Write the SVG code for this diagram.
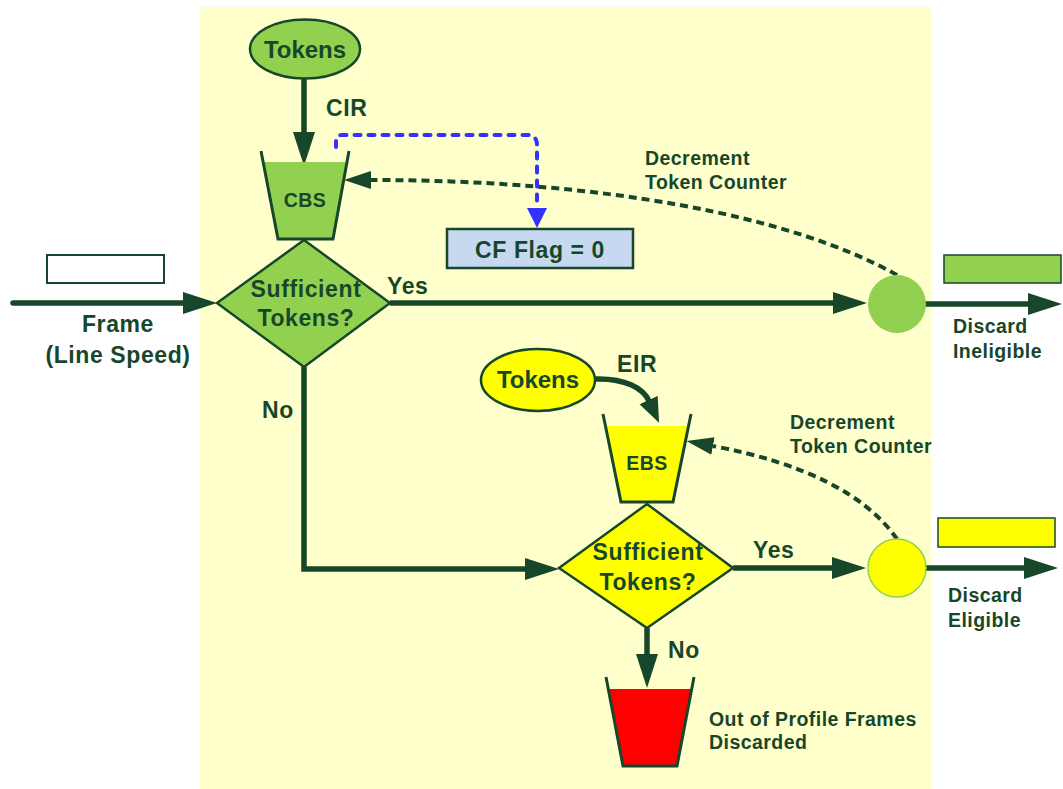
<svg xmlns="http://www.w3.org/2000/svg" width="1063" height="789" viewBox="0 0 1063 789">
<style>
text{font-family:"Liberation Sans",Arial,sans-serif;font-weight:bold;fill:#17472A}
.big{font-size:23px;letter-spacing:0.6px}
.lbl{font-size:23px;letter-spacing:0.6px}
.sm{font-size:19.5px;letter-spacing:0.4px}
.note{font-size:19.5px;letter-spacing:0.45px}
.c{text-anchor:middle}
.ln{fill:none;stroke:#17472A;stroke-width:5.5}
.dash{fill:none;stroke:#17472A;stroke-width:4;stroke-dasharray:8 5}
.blue{fill:none;stroke:#3333FF;stroke-width:4;stroke-dasharray:6 8;stroke-linecap:round}
.edge{stroke:#17472A;stroke-width:2.5}
.cup{fill:none;stroke:#17472A;stroke-width:3;stroke-linejoin:miter}
</style>
<defs>
<marker id="aL" markerUnits="userSpaceOnUse" markerWidth="36" markerHeight="24" refX="2" refY="11" orient="auto"><path d="M0,0 L34,11 L0,22 z" fill="#17472A"/></marker>
<marker id="aD" markerUnits="userSpaceOnUse" markerWidth="30" markerHeight="20" refX="0" refY="9" orient="auto"><path d="M0,0 L27,9 L0,18 z" fill="#17472A"/></marker>
<marker id="aE" markerUnits="userSpaceOnUse" markerWidth="28" markerHeight="22" refX="1" refY="10" orient="auto"><path d="M0,0 L25,10 L0,20 z" fill="#17472A"/></marker>
<marker id="aB" markerUnits="userSpaceOnUse" markerWidth="22" markerHeight="22" refX="0" refY="10" orient="auto"><path d="M0,0 L20,10 L0,20 z" fill="#3333FF"/></marker>
</defs>
<rect x="200" y="7" width="731" height="782" fill="#FFFFCC"/>

<g id="legend-frame"><rect x="47" y="255" width="117" height="28" fill="#FFFFFF" stroke="#17472A" stroke-width="2"/></g>
<g id="legend-ineligible"><rect x="944" y="255" width="117" height="28" fill="#92D050" stroke="#17472A" stroke-width="1.5"/></g>
<g id="legend-eligible"><rect x="938" y="518" width="117" height="29" fill="#FFFF00" stroke="#17472A" stroke-width="1.5"/></g>

<g id="connectors">
<path class="ln" d="M13,303 H185" stroke-linecap="round" marker-end="url(#aL)"/>
<path class="ln" d="M304,79 V134" marker-end="url(#aL)"/>
<path class="ln" d="M390,303 H835" marker-end="url(#aL)"/>
<path class="ln" d="M925,304 H1030" stroke-linecap="round" marker-end="url(#aL)"/>
<path class="ln" d="M304,367 V569 H527" marker-end="url(#aL)"/>
<path class="ln" d="M733,568 H834" marker-end="url(#aL)"/>
<path class="ln" d="M925,568 H1026" stroke-linecap="round" marker-end="url(#aL)"/>
<path class="ln" d="M647,628 V656" marker-end="url(#aL)"/>
<path class="ln" d="M595,379 C625,378 643,388 649,401" marker-end="url(#aE)"/>
<path class="dash" d="M897,275 C790,215 600,180 371,180" marker-end="url(#aD)"/>
<path class="dash" d="M897,539 Q850,472 713,446" marker-end="url(#aD)"/>
<path class="blue" d="M336,147 V141 Q336,135 342,135 H527 Q537,135 537,145 V208" marker-end="url(#aB)"/>
</g>

<g id="tokens-cir">
<ellipse cx="305" cy="49" rx="55" ry="29.5" fill="#92D050" class="edge"/>
<text x="305" y="58" class="c" style="font-size:24px">Tokens</text>
</g>
<text x="326" y="116" class="lbl">CIR</text>

<g id="cbs">
<polygon points="263,162 347,162 333,239 278,239" fill="#92D050"/>
<polyline points="261,151 278,239 333,239 349,151" class="cup"/>
<text x="305" y="207" class="c sm">CBS</text>
</g>

<g id="cf-flag">
<rect x="447" y="229" width="186" height="39" fill="#C6D9F1" class="edge"/>
<text x="540" y="258" class="c big">CF Flag = 0</text>
</g>

<text x="645" y="165" class="note">Decrement</text>
<text x="645" y="189" class="note">Token Counter</text>

<g id="decision-cir">
<polygon points="217,303 304,240 390,303 304,367" fill="#92D050" class="edge"/>
<text x="306" y="297" class="c big">Sufficient</text>
<text x="306" y="326" class="c big">Tokens?</text>
</g>
<text x="387" y="294" class="lbl">Yes</text>
<text x="262" y="418" class="lbl">No</text>

<text x="118" y="332" class="c big">Frame</text>
<text x="118" y="363" class="c big">(Line Speed)</text>

<g id="mark-ineligible"><circle cx="897" cy="304" r="29" fill="#92D050"/></g>
<text x="953" y="333" class="note">Discard</text>
<text x="953" y="358" class="note">Ineligible</text>

<g id="tokens-eir">
<ellipse cx="538" cy="380" rx="57" ry="31" fill="#FFFF00" class="edge"/>
<text x="538" y="388" class="c" style="font-size:24px">Tokens</text>
</g>
<text x="617" y="372" class="lbl">EIR</text>

<g id="ebs">
<polygon points="605.5,426 688.5,426 673,502 621,502" fill="#FFFF00"/>
<polyline points="603,414 621,502 673,502 691,414" class="cup"/>
<text x="647" y="470" class="c sm">EBS</text>
</g>

<text x="790" y="429" class="note">Decrement</text>
<text x="790" y="453" class="note">Token Counter</text>

<g id="decision-eir">
<polygon points="559,568 647,504 733,568 647,628" fill="#FFFF00" class="edge"/>
<text x="648" y="560" class="c big">Sufficient</text>
<text x="648" y="590" class="c big">Tokens?</text>
</g>
<text x="753" y="558" class="lbl">Yes</text>
<text x="668" y="658" class="lbl">No</text>

<g id="mark-eligible"><circle cx="897" cy="568" r="29" fill="#FFFF00" stroke="#92D050" stroke-width="1.5"/></g>
<text x="948" y="602" class="note">Discard</text>
<text x="948" y="627" class="note">Eligible</text>

<g id="discard-bucket">
<polygon points="608.3,689 691.7,689 677,766 623,766" fill="#FF0000"/>
<polyline points="606,677 623,766 677,766 694,677" class="cup"/>
</g>
<text x="709" y="726" class="note">Out of Profile Frames</text>
<text x="709" y="749" class="note">Discarded</text>
</svg>
